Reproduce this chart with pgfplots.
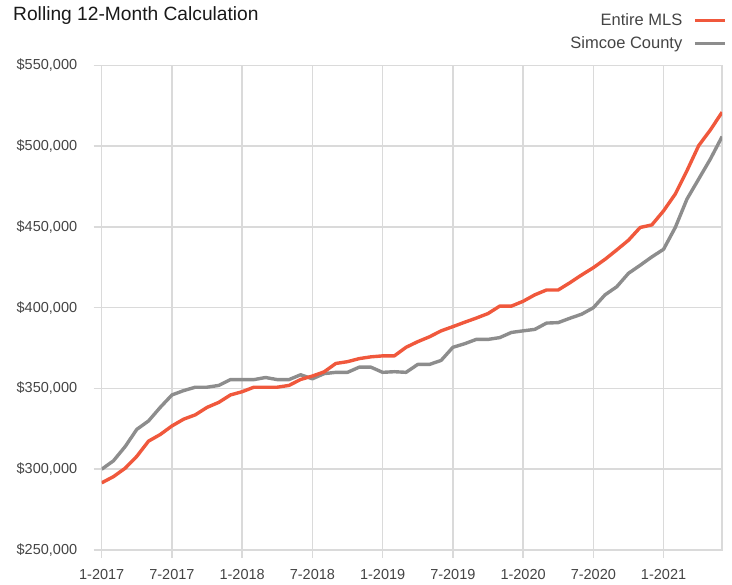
\documentclass[border=0pt]{standalone}
\usepackage{fontspec}
\setmainfont{Liberation Sans}
\usepackage{pgfplots}
\usepackage{pgfplotstable}
\pgfplotsset{compat=1.18}
\definecolor{mlsred}{RGB}{240,88,60}
\definecolor{simgray}{RGB}{141,141,141}
\definecolor{gridgray}{RGB}{218,218,218}
\definecolor{labelgray}{RGB}{68,68,68}
\pgfplotstableread{
m mls simcoe
0 291600 300000
1 295400 305200
2 300600 314000
3 308000 324700
4 317400 329900
5 321500 338300
6 326800 346000
7 331000 348700
8 333700 350800
9 338300 350800
10 341400 351900
11 346000 355500
12 348000 355500
13 350800 355500
14 350800 356800
15 350800 355500
16 351900 355500
17 355600 358500
18 357700 356000
19 360300 359200
20 365500 360000
21 366600 360000
22 368500 363200
23 369600 363200
24 370200 360000
25 370200 360400
26 375500 360000
27 379000 364900
28 382000 364900
29 385700 367400
30 388300 375500
31 391000 377700
32 393600 380400
33 396400 380400
34 401000 381500
35 401000 384700
36 404000 385700
37 408000 386600
38 411000 390500
39 411000 390800
40 415500 393500
41 420300 396000
42 424800 400000
43 430000 408000
44 435800 413000
45 441800 421300
46 449700 426300
47 451300 431500
48 460000 436200
49 470400 449700
50 484900 467300
51 500400 479700
52 510100 492100
53 521100 506000
}\datatable
\begin{document}
\begin{tikzpicture}[x=1pt,y=1pt]
\path[use as bounding box] (0,0) rectangle (732,585);
\node[anchor=base west, font=\fontsize{19.2}{23}\selectfont, text=black!90, inner sep=0] at (13,564.3) {Rolling 12-Month Calculation};
\begin{axis}[
  at={(101.7pt,35pt)}, anchor=south west,
  scale only axis, width=620.4pt, height=484.5pt,
  xmin=0, xmax=53, ymin=250000, ymax=550000,
  xtick={0,6,...,48},
  xticklabels={1-2017,7-2017,1-2018,7-2018,1-2019,7-2019,1-2020,7-2020,1-2021},
  ytick={250000,300000,...,550000},
  yticklabels={{\$250,000},{\$300,000},{\$350,000},{\$400,000},{\$450,000},{\$500,000},{\$550,000}},
  scaled ticks=false,
  grid=major, major grid style={gridgray, line width=1.5pt},
  axis line style={gridgray, line width=1.5pt},
  tick align=outside, tick pos=left, major tick length=8pt,
  tick style={gridgray, line width=1.5pt},
  tick label style={font=\fontsize{14.5}{17}\selectfont, text=labelgray},
  yticklabel style={xshift=-13pt},
  xticklabel style={yshift=-8pt},
  legend style={at={(1.012,1.115)}, anchor=north east, draw=none, fill=none,
    font=\fontsize{16.5}{19}\selectfont, text=labelgray, row sep=5pt,
    /tikz/every odd column/.append style={column sep=9pt}},
  legend cell align=right, legend plot pos=right,
  legend image code/.code={\draw[#1, line width=3pt] (0pt,0pt) -- (30pt,0pt);},
]
\addlegendimage{mlsred}
\addlegendentry{Entire MLS}
\addlegendimage{simgray}
\addlegendentry{Simcoe County}
\addplot[simgray, line width=3.4pt, line join=round, no marks, forget plot] table[x=m, y=simcoe] {\datatable};
\addplot[mlsred, line width=3.4pt, line join=round, no marks, forget plot] table[x=m, y=mls] {\datatable};
\end{axis}
\end{tikzpicture}
\end{document}
